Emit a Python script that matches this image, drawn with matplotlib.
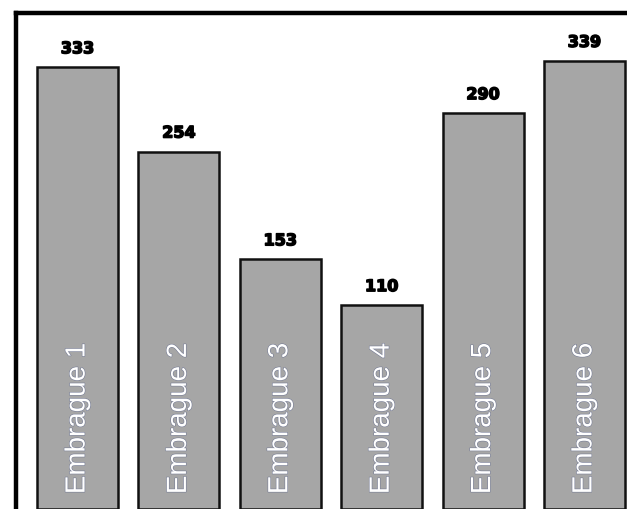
import matplotlib
matplotlib.use("Agg")
import matplotlib.pyplot as plt
import matplotlib.patheffects as pe
import numpy as np

categories = ["Embrague 1", "Embrague 2", "Embrague 3",
              "Embrague 4", "Embrague 5", "Embrague 6"]
values = [333, 254, 153, 110, 290, 339]

W, H = 627, 510
fig = plt.figure(figsize=(W / 100, H / 100), dpi=100)
fig.patch.set_facecolor("white")

# axes frame: left/top edges visible, right and bottom run past the canvas
left_px, top_px, right_px = 16, 14, 646
ax = fig.add_axes([left_px / W, 0.0, (right_px - left_px) / W, 1 - top_px / H])

y_low, y_high = -81, 384
x = np.arange(len(values))
vals = np.array(values, dtype=float)

ax.bar(x, vals - y_low, bottom=y_low, width=0.8, color="#a6a6a6",
       edgecolor="#111111", linewidth=1.8, zorder=2)

ax.set_xlim(-0.607, len(values) - 1 + 0.607)
ax.set_ylim(y_low, y_high)

value_fx = [pe.withStroke(linewidth=1.1, foreground="black")]
for xi, v in zip(x, values):
    ax.annotate(str(v), (xi, v), xytext=(0, 8), textcoords="offset points",
                ha="center", va="bottom", fontsize=11.5, fontweight="bold",
                family="DejaVu Sans", color="black", path_effects=value_fx,
                zorder=3)

label_fx = [pe.withStroke(linewidth=0.9, foreground="#2a3a7a", alpha=0.35)]
for xi, name in zip(x, categories):
    ax.text(xi, 0.03, name, transform=ax.get_xaxis_transform(),
            rotation=90, ha="center", va="bottom", fontsize=20,
            family="Liberation Sans", color="white",
            path_effects=label_fx, zorder=3)

for side in ("left", "top"):
    ax.spines[side].set_linewidth(3.2)
    ax.spines[side].set_color("black")
for side in ("right", "bottom"):
    ax.spines[side].set_visible(False)

ax.set_xticks([])
ax.set_yticks([])

fig.savefig("out.png", dpi=100, facecolor="white")
